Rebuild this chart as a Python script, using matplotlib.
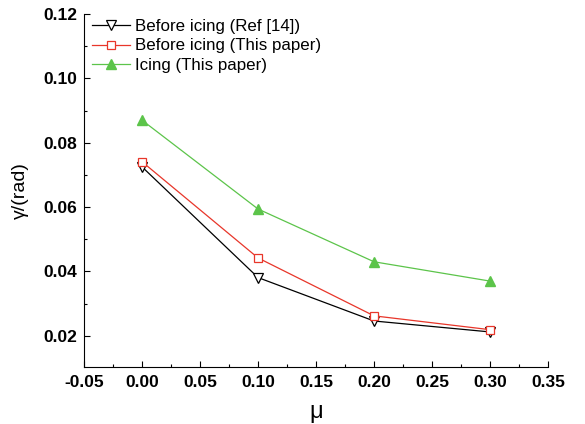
import numpy as np
import matplotlib
matplotlib.use("Agg")
import matplotlib.pyplot as plt
from matplotlib.ticker import MultipleLocator, AutoMinorLocator

plt.rcParams['font.family'] = ['Liberation Sans', 'DejaVu Sans']

mu = [0.0, 0.1, 0.2, 0.3]
before_ref = [0.0725, 0.0381, 0.0246, 0.0212]
before_paper = [0.0741, 0.0442, 0.0262, 0.0219]
icing_paper = [0.0870, 0.0594, 0.0430, 0.0370]

fig = plt.figure(figsize=(5.85, 4.24), dpi=100)
ax = fig.add_axes([0.1436, 0.1344, 0.7932, 0.8326])

ax.plot(mu, before_ref, color='black', lw=0.9, marker='v', ms=7,
        mfc='white', mec='black', mew=0.9, label='Before icing (Ref [14])')
ax.plot(mu, before_paper, color='#e8362a', lw=0.9, marker='s', ms=6,
        mfc='white', mec='#e8362a', mew=0.9, label='Before icing (This paper)')
ax.plot(mu, icing_paper, color='#5cc44a', lw=0.9, marker='^', ms=7,
        mfc='#5cc44a', mec='#5cc44a', label='Icing (This paper)')

ax.set_xlim(-0.05, 0.35)
ax.set_ylim(0.0103, 0.12)
ax.xaxis.set_major_locator(MultipleLocator(0.05))
ax.xaxis.set_minor_locator(AutoMinorLocator(2))
ax.yaxis.set_major_locator(MultipleLocator(0.02))
ax.yaxis.set_minor_locator(AutoMinorLocator(2))
ax.xaxis.set_major_formatter(plt.FormatStrFormatter('%.2f'))
ax.yaxis.set_major_formatter(plt.FormatStrFormatter('%.2f'))

for s in ['top', 'right']:
    ax.spines[s].set_visible(False)
ax.tick_params(which='both', direction='in', width=0.8)
ax.tick_params(which='major', length=4, labelsize=12.5)
ax.tick_params(which='minor', length=2)
ax.tick_params(axis='x', which='major', pad=6)
ax.tick_params(axis='y', which='major', pad=5)
for lab in ax.get_xticklabels() + ax.get_yticklabels():
    lab.set_fontweight('bold')

ax.set_xlabel('μ', fontsize=17, labelpad=8)
ax.set_ylabel('γ/(rad)', fontsize=14, labelpad=10)

ax.legend(loc='upper left', frameon=False, fontsize=12.2, handlelength=2.2,
          handletextpad=0.3, labelspacing=0.25, borderaxespad=0.2,
          bbox_to_anchor=(-0.004, 1.014))

fig.savefig('out.png', dpi=100)
